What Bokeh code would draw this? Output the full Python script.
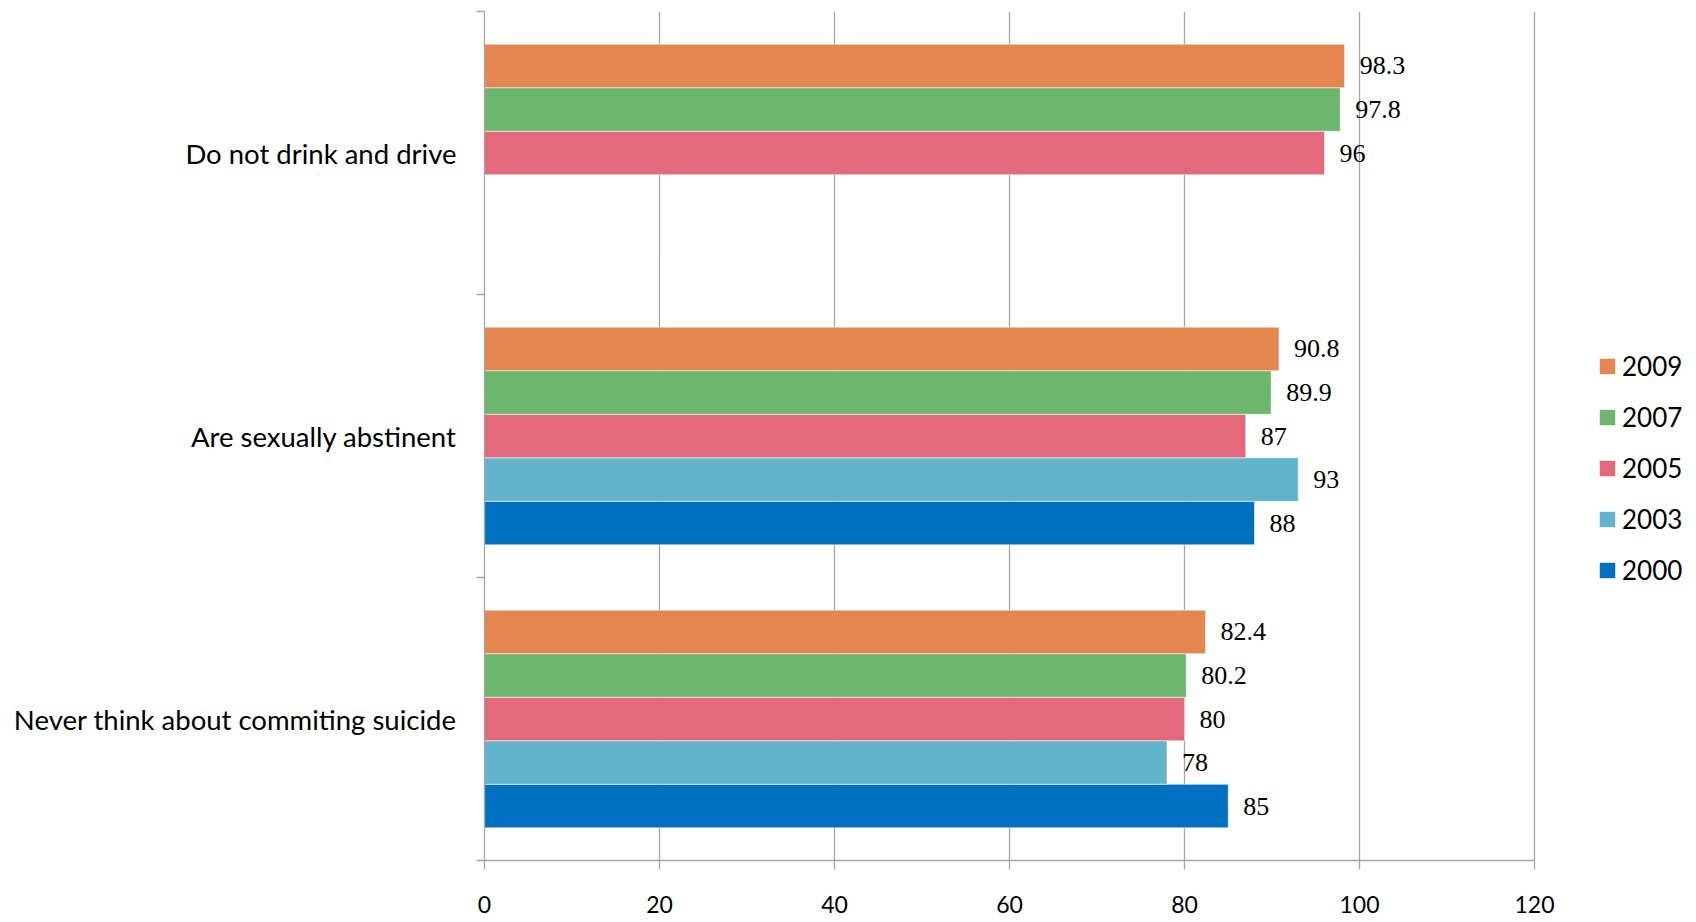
from bokeh.plotting import figure
from bokeh.models import (ColumnDataSource, FactorRange, Range1d, LinearAxis, CategoricalAxis,
                          FixedTicker, LabelSet, Legend, LegendItem, Grid)
from bokeh.transform import dodge
from bokeh.embed import file_html
from bokeh.resources import INLINE

FONT = "Lato"

categories = ["Never think about commiting suicide", "Are sexually abstinent", "Do not drink and drive"]
years = ["2000", "2003", "2005", "2007", "2009"]
v2000 = [85, 88, None]
v2003 = [78, 93, None]
v2005 = [80, 87, 96]
v2007 = [80.2, 89.9, 97.8]
v2009 = [82.4, 90.8, 98.3]
series = {"2000": v2000, "2003": v2003, "2005": v2005, "2007": v2007, "2009": v2009}
colors = {"2000": "#0070C0", "2003": "#61B4CB", "2005": "#E5697C", "2007": "#6CB66E", "2009": "#E58651"}
x_ticks = [0, 20, 40, 60, 80, 100, 120]

W, H = 1696, 922
LEFT, TOP, BOTTOM = 484, 11, 62
AXIS_PX = 1050  # pixels from 0 to 120 on the value axis
frame_w = W - LEFT
x_end = x_ticks[-1] * frame_w / AXIS_PX  # frame extends past 120 to host the legend

p = figure(width=W, height=H, output_backend="svg", toolbar_location=None,
           y_range=FactorRange(factors=categories), x_range=Range1d(0, x_end),
           x_axis_location=None, y_axis_location=None,
           min_border_left=LEFT, min_border_right=0, min_border_top=TOP, min_border_bottom=BOTTOM)
p.outline_line_color = None
p.background_fill_color = "white"
p.border_fill_color = "white"

GRID = "#A6A6A6"

# x axis
xa = LinearAxis(ticker=FixedTicker(ticks=x_ticks), bounds=(x_ticks[0], x_ticks[-1]))
xa.axis_line_color = GRID
xa.axis_line_width = 1.3
xa.major_tick_line_color = GRID
xa.major_tick_line_width = 1.3
xa.major_tick_out = 9
xa.major_tick_in = 0
xa.minor_tick_line_color = None
xa.major_label_standoff = 26
xa.major_label_text_font = FONT
xa.major_label_text_font_size = "23px"
xa.major_label_text_color = "#000000"
p.add_layout(xa, "below")

# boundary ticks on y (synthetic category coordinates 0..n)
bounds = list(range(len(categories) + 1))
ta = LinearAxis(ticker=FixedTicker(ticks=bounds))
ta.axis_line_color = GRID
ta.axis_line_width = 1.3
ta.major_tick_line_color = GRID
ta.major_tick_line_width = 1.3
ta.major_tick_out = 8
ta.major_tick_in = 0
ta.minor_tick_line_color = None
ta.major_label_overrides = {b: "" for b in bounds}
ta.major_label_text_font_size = "1px"
ta.major_label_standoff = 0
p.add_layout(ta, "left")

ya = CategoricalAxis()
ya.axis_line_color = None
ya.major_tick_line_color = None
ya.major_label_standoff = 14
ya.major_label_text_font = FONT
ya.major_label_text_font_size = "27.5px"
ya.major_label_text_color = "#000000"
p.add_layout(ya, "left")

p.xgrid.visible = False
p.ygrid.visible = False
g = Grid(dimension=0, ticker=FixedTicker(ticks=x_ticks[1:]), grid_line_color=GRID, grid_line_width=1.3)
p.add_layout(g)

bw = 1 / 6.5
items = {}
for i, yr in enumerate(years):
    cats = [c for c, v in zip(categories, series[yr]) if v is not None]
    vals = [v for v in series[yr] if v is not None]
    src = ColumnDataSource(dict(cat=cats, val=vals, txt=[f"{v:g}" for v in vals]))
    off = (i - 2) * bw
    r = p.hbar(y=dodge("cat", off, range=p.y_range), left=0, right="val", height=bw, source=src,
               fill_color=colors[yr], line_color="white", line_alpha=0.55, line_width=1)
    items[yr] = r
    lab = LabelSet(x="val", y=dodge("cat", off, range=p.y_range), text="txt", source=src,
                   x_offset=15, text_baseline="middle", text_align="left",
                   text_font=FONT, text_font_size="26px", text_color="#000000")
    p.add_layout(lab)

legend = Legend(items=[LegendItem(label=yr, renderers=[items[yr]]) for yr in reversed(years)],
                location=(1113, 274))
legend.padding = 0
legend.margin = 0
legend.border_line_color = None
legend.background_fill_alpha = 0
legend.glyph_width = 20
legend.glyph_height = 20
legend.label_height = 32
legend.spacing = 19
legend.label_standoff = 5
legend.label_text_font = FONT
legend.label_text_font_size = "26px"
legend.label_text_color = "#000000"
p.add_layout(legend, "center")

open("out.html", "w").write(file_html(p, INLINE))
